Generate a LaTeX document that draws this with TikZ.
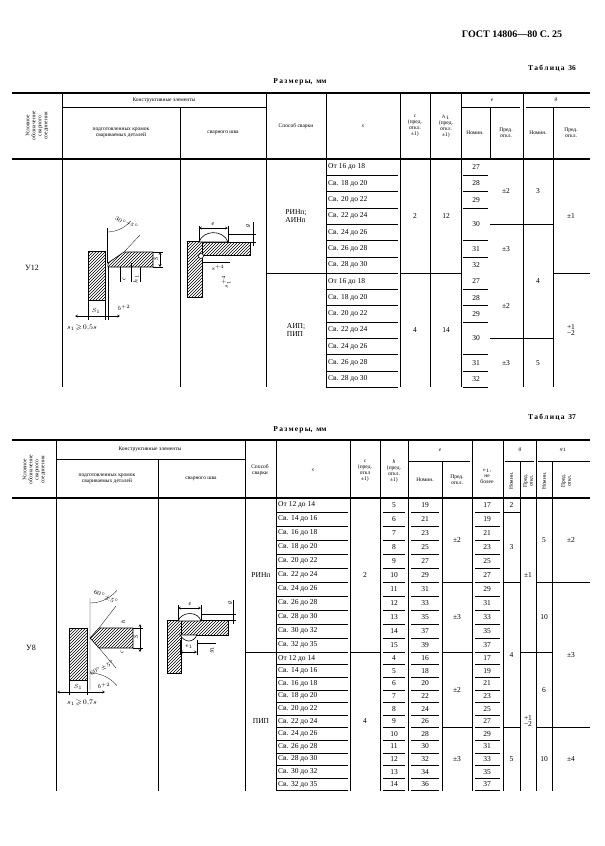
\documentclass[tikz,border=0pt]{standalone}
\usepackage{amsmath,amssymb}
\usepackage{fontspec}
\setmainfont{Liberation Serif}
\usetikzlibrary{patterns}
\tikzset{
 tx/.style={font=\fontsize{7.5}{8}\selectfont,inner sep=0pt},
 hd/.style={font=\fontsize{5.5}{6}\selectfont,inner sep=0pt,align=center},
 hatch/.style={draw,line width=0.6pt,pattern=north east lines},
 rule/.style={line width=0.5pt},
 thk/.style={line width=1.1pt},
 dim/.style={line width=0.3pt},
 lab/.style={font=\fontsize{6}{6}\selectfont\itshape,inner sep=0.5pt},
 pm/.style={font=\fontsize{7.5}{6.5}\selectfont,inner sep=0pt,align=center}
}
\begin{document}
\begin{tikzpicture}[x=1pt,y=-1pt]
\useasboundingbox (0,0) rectangle (605,846);
\fill[white] (0,0) rectangle (605,846);
\node[font=\bfseries\fontsize{10}{10}\selectfont] (gost) at (512,34) {ГОСТ 14806—80 С. 25};
% ================= TABLE 36 =================
\node[font=\bfseries\fontsize{7.5}{8}\selectfont] (t36) at (552,68) {Т\,а\,б\,л\,и\,ц\,а\ \ 36};
\node[font=\bfseries\fontsize{7.5}{8}\selectfont] (r36) at (300,82) {Р\,а\,з\,м\,е\,р\,ы,\ \ мм};
\draw[thk] (12,93) -- (590,93);
\draw[thk] (12,159) -- (590,159);
\foreach \x in {62,266,326,400,430,461,523} \draw[rule] (\x,93) -- (\x,387);
\draw[rule] (180,107) -- (180,387);
\draw[rule] (490,107) -- (490,159);
\draw[rule] (553,107) -- (553,387);
\draw[rule] (62,107) -- (266,107);
\draw[rule] (461,107) -- (520,107);
\draw[rule] (526,107) -- (590,107);
\node[hd,rotate=90] (h1a) at (37,126) {Условное\\обозначение\\сварного\\соединения};
\node[hd] (h1b) at (164,100) {Конструктивные элементы};
\node[hd] (h1c) at (121,133) {подготовленных кромок\\свариваемых деталей};
\node[hd] (h1d) at (223,133) {сварного шва};
\node[hd] (h1e) at (296,126) {Способ сварки};
\node[hd,font=\fontsize{5.5}{6}\selectfont\itshape] (h1f) at (363,126) {s};
\node[hd] (h1g) at (415,126) {\textit{c}\\(пред.\\откл.\\±1)};
\node[hd] (h1h) at (446,126) {$h_1$\\(пред.\\откл.\\±1)};
\node[hd,font=\fontsize{5.5}{6}\selectfont\itshape] (h1i) at (492,100) {e};
\node[hd] (h1j) at (475,133) {Номин.};
\node[hd] (h1k) at (506,133) {Пред.\\откл.};
\node[hd,font=\fontsize{5.5}{6}\selectfont\itshape] (h1l) at (556,100) {g};
\node[hd] (h1m) at (538,133) {Номин.};
\node[hd] (h1n) at (571,133) {Пред.\\откл.};
% body
\foreach \t [count=\i from 0] in {{От 16 до 18},{Св. 18 до 20},{Св. 20 до 22},{Св. 22 до 24},{Св. 24 до 26},{Св. 26 до 28},{Св. 28 до 30},{От 16 до 18},{Св. 18 до 20},{Св. 20 до 22},{Св. 22 до 24},{Св. 24 до 26},{Св. 26 до 28},{Св. 28 до 30}}{
 \node[tx,anchor=west] (sa\i) at (328,{159+(\i+0.5)*16.3}) {\t};
 \draw[rule] (326,{159+(\i+1)*16.3}) -- (398,{159+(\i+1)*16.3});
}
\foreach \v/\r in {27/0,28/1,29/2,31/5,32/6,27/7,28/8,29/9,31/12,32/13}{
 \node[tx] (ea\r) at (476,{159+(\r+0.5)*16.3}) {\v};
}
\node[tx] (ea3) at (476,{159+4*16.3}) {30};
\node[tx] (ea10) at (476,{159+11*16.3}) {30};
\foreach \r in {1,2,3,5,6,8,9,10,12,13,14} \draw[rule] (463,{159+\r*16.3}) -- (488,{159+\r*16.3});
\draw[rule] (266,273.1) -- (326,273.1);
\draw[rule] (400,273.1) -- (461,273.1);
\draw[rule] (553,273.1) -- (590,273.1);
\draw[rule] (490,224.2) -- (553,224.2);
\draw[rule] (490,338.3) -- (553,338.3);
\node[tx,align=left] (m1) at (296,216) {РИНп;\\АИНп};
\node[tx,align=left] (m2) at (296,330) {АИП;\\ПИП};
\node[tx] (c1) at (415,216) {2};
\node[tx] (c2) at (415,330) {4};
\node[tx] (hh1) at (446,216) {12};
\node[tx] (hh2) at (446,330) {14};
\node[tx] (ep1) at (506,191) {±2};
\node[tx] (ep2) at (506,249) {±3};
\node[tx] (ep3) at (506,306) {±2};
\node[tx] (ep4) at (506,363) {±3};
\node[tx] (gn1) at (538,191) {3};
\node[tx] (gn2) at (538,281) {4};
\node[tx] (gn3) at (538,363) {5};
\node[tx] (gp1) at (571,216) {±1};
\node[pm] (gp2) at (571,330) {+1\\−2};
\node[tx,font=\fontsize{8}{8}\selectfont] (u12) at (32,268) {У12};
% drawing 1 table 36
\draw[hatch] (88,251) rectangle (105,300);
\draw[hatch] (108,263) -- (124,252) -- (153,252) -- (153,267) -- (108,267) -- cycle;
\draw[dim] (107,263) -- (107,228);
\draw[dim] (124,252) -- (140,235);
\draw[dim] (107,232) arc[start angle=90,end angle=40,radius=31];
\node[lab,rotate=-30] (a1) at (127,223) {$30^{\circ}{}^{+5^{\circ}}$};
\draw[dim] (153,252) -- (163,252) (153,267) -- (163,267);
\draw[dim,<->,>=stealth] (160,252) -- (160,267);
\node[lab,rotate=90] (s1l) at (156,259) {S};
\draw[dim] (120,267) -- (120,282) (131,263) -- (131,282) (140,267) -- (140,282);
\node[lab,rotate=90] (cl) at (124,279) {c};
\node[lab,rotate=90] (hl) at (136,279) {$h_1$};
\draw[dim] (88,300) -- (88,320) (105,300) -- (105,320) (108,267) -- (108,320);
\draw[dim,<->,>=stealth] (75,316) -- (120,316);
\node[lab] (s1a) at (96,311) {$S_1$};
\node[lab] (b1a) at (124,308) {$b^{+2}$};
\node[lab,font=\fontsize{7}{7}\selectfont] (s1b) at (82,328) {$s_1\!\geqslant\!0{,}5s$};
% drawing 2 table 36
\draw[hatch] (187,241) rectangle (202,297);
\draw[hatch] (202,242) rectangle (250,255);
\draw[line width=0.6pt,fill=white] (199,242) .. controls (203,230) and (223,229) .. (228,242) -- cycle;
\draw[line width=0.6pt,fill=white] (201,256) circle (2.5);
\draw[dim] (199,242) -- (199,226) (228,242) -- (228,226);
\draw[dim,<->,>=stealth] (199,228) -- (228,228);
\node[lab] (el) at (213,224) {e};
\draw[dim] (250,242) -- (256,242) (228,234) -- (256,234);
\draw[dim] (253,222) -- (253,246);
\node[lab,rotate=90] (gl) at (248,226) {g};
\draw[dim] (202,262) -- (230,262);
\node[lab] (sp) at (218,268) {$s^{+4}$};
\node[lab,rotate=90] (sp2) at (226,282) {$s^{+4}_1$};
% ================= TABLE 37 =================
\node[font=\bfseries\fontsize{7.5}{8}\selectfont] (t37) at (552,417) {Т\,а\,б\,л\,и\,ц\,а\ \ 37};
\node[font=\bfseries\fontsize{7.5}{8}\selectfont] (r37) at (300,430) {Р\,а\,з\,м\,е\,р\,ы,\ \ мм};
\draw[thk] (12,440) -- (590,440);
\draw[thk] (12,498) -- (590,498);
\foreach \x in {56,245,276,350,380,408,472,503,536} \draw[rule] (\x,440) -- (\x,791);
\draw[rule] (158,459) -- (158,791);
\draw[rule] (442,461) -- (442,791);
\draw[rule] (520,461) -- (520,791);
\draw[rule] (552,461) -- (552,791);
\draw[rule] (56,459) -- (245,459);
\draw[rule] (408,461) -- (470,461);
\draw[rule] (505,461) -- (534,461);
\draw[rule] (538,461) -- (590,461);
\node[hd,rotate=90] (h2a) at (34,470) {Условное\\обозначение\\сварного\\соединения};
\node[hd] (h2b) at (150,449) {Конструктивные элементы};
\node[hd] (h2c) at (107,479) {подготовленных кромок\\свариваемых деталей};
\node[hd] (h2d) at (201,479) {сварного шва};
\node[hd] (h2e) at (260,470) {Способ\\сварки};
\node[hd,font=\fontsize{5.5}{6}\selectfont\itshape] (h2f) at (313,470) {s};
\node[hd] (h2g) at (365,471) {\textit{c}\\(пред.\\откл\\±1)};
\node[hd] (h2h) at (394,471) {\textit{h}\\(пред.\\откл.\\±1)};
\node[hd,font=\fontsize{5.5}{6}\selectfont\itshape] (h2i) at (440,450) {e};
\node[hd] (h2j) at (425,480) {Номин.};
\node[hd] (h2k) at (457,480) {Пред.\\откл.};
\node[hd] (h2l) at (487,476) {$e_1$,\\не\\более};
\node[hd,font=\fontsize{5.5}{6}\selectfont\itshape] (h2m) at (520,450) {g};
\node[hd,rotate=90] (h2n) at (511,481) {Номин.};
\node[hd,rotate=90] (h2o) at (528,481) {Пред.\\откл.};
\node[hd] (h2p) at (563,450) {$g_1$};
\node[hd,rotate=90] (h2q) at (544,481) {Номин.};
\node[hd,rotate=90] (h2r) at (566,481) {Пред.\\откл.};
\foreach \t/\h/\e/\f [count=\i from 0] in {{От 12 до 14}/5/19/17,{Св. 14 до 16}/6/21/19,{Св. 16 до 18}/7/23/21,{Св. 18 до 20}/8/25/23,{Св. 20 до 22}/9/27/25,{Св. 22 до 24}/10/29/27,{Св. 24 до 26}/11/31/29,{Св. 26 до 28}/12/33/31,{Св. 28 до 30}/13/35/33,{Св. 30 до 32}/14/37/35,{Св. 32 до 35}/15/39/37,{От 12 до 14}/4/16/17,{Св. 14 до 16}/5/18/19,{Св. 16 до 18}/6/20/21,{Св. 18 до 20}/7/22/23,{Св. 20 до 22}/8/24/25,{Св. 22 до 24}/9/26/27,{Св. 24 до 26}/10/28/29,{Св. 26 до 28}/11/30/31,{Св. 28 до 30}/12/32/33,{Св. 30 до 32}/13/34/35,{Св. 32 до 35}/14/36/37}{
 \pgfmathsetmacro\yc{\i<11 ? 498+(\i+0.5)*14 : 652+(\i-10.5)*12.6}
 \pgfmathsetmacro\yb{\i<11 ? 498+(\i+1)*14 : 652+(\i-10)*12.6}
 \node[tx,anchor=west] (sb\i) at (278,\yc) {\t};
 \node[tx] (hb\i) at (394,\yc) {\h};
 \node[tx] (eb\i) at (425,\yc) {\e};
 \node[tx] (fb\i) at (487,\yc) {\f};
 \draw[rule] (276,\yb) -- (348,\yb);
 \draw[rule] (383,\yb) -- (405,\yb);
 \draw[rule] (411,\yb) -- (439,\yb);
 \draw[rule] (475,\yb) -- (500,\yb);
}
\draw[rule] (245,652) -- (276,652);
\draw[rule] (350,652) -- (380,652);
\draw[rule] (442,582) -- (472,582) (442,652) -- (472,652) (442,727.6) -- (472,727.6);
\draw[rule] (503,512) -- (520,512) (503,582) -- (520,582) (503,727.6) -- (520,727.6);
\draw[rule] (520,652) -- (536,652);
\draw[rule] (536,582) -- (552,582) (536,652) -- (552,652) (536,727.6) -- (552,727.6);
\draw[rule] (552,582) -- (590,582) (552,727.6) -- (590,727.6);
\node[tx] (mb1) at (261,575) {РИНп};
\node[tx] (mb2) at (261,721) {ПИП};
\node[tx] (cb1) at (365,575) {2};
\node[tx] (cb2) at (365,721) {4};
\node[tx] (epb1) at (457,540) {±2};
\node[tx] (epb2) at (457,617) {±3};
\node[tx] (epb3) at (457,690) {±2};
\node[tx] (epb4) at (457,759) {±3};
\node[tx] (gnb1) at (511.5,505) {2};
\node[tx] (gnb2) at (511.5,547) {3};
\node[tx] (gnb3) at (511.5,655) {4};
\node[tx] (gnb4) at (511.5,759) {5};
\node[tx] (gpb1) at (528,575) {±1};
\node[pm] (gpb2) at (528,721) {+1\\−2};
\node[tx] (g1a) at (544,540) {5};
\node[tx] (g1b) at (544,617) {10};
\node[tx] (g1c) at (544,690) {6};
\node[tx] (g1d) at (544,759) {10};
\node[tx] (g1e) at (571,540) {±2};
\node[tx] (g1f) at (571,655) {±3};
\node[tx] (g1g) at (571,759) {±4};
\node[tx,font=\fontsize{8}{8}\selectfont] (u8) at (31,648) {У8};
% drawing 1 table 37
\draw[hatch] (69,628) rectangle (87,680);
\draw[hatch] (90,638) -- (99,628) -- (133,628) -- (133,648) -- (99,648) -- cycle;
\draw[dim] (90,638) -- (90,598) (99,628) -- (116,606) (99,648) -- (116,668) (90,638) -- (90,690);
\draw[dim] (90,603) arc[start angle=90,end angle=40,radius=35];
\draw[dim] (90,673) arc[start angle=-90,end angle=-40,radius=35];
\node[lab,rotate=-25] (a2) at (106,597) {$60^{\circ}\!\pm\!5^{\circ}$};
\node[lab,rotate=25] (a3) at (102,668) {$60^{\circ}\!\pm\!5^{\circ}$};
\node[lab,rotate=90] (cc) at (122,652) {c};
\node[lab,rotate=90] (hc) at (123,622) {h};
\draw[dim] (133,628) -- (143,628) (133,648) -- (143,648);
\draw[dim,<->,>=stealth] (140,624) -- (140,652);
\node[lab,rotate=90] (ss2) at (136,637) {S};
\draw[dim] (69,680) -- (69,695) (87,680) -- (87,695);
\draw[dim,<->,>=stealth] (57,692) -- (105,692);
\node[lab] (s1c) at (78,687) {$S_1$};
\node[lab] (b2) at (104,686) {$b^{+2}$};
\node[lab,font=\fontsize{7}{7}\selectfont] (s1d) at (82,703) {$s_1\!\geqslant\!0{,}7s$};
% drawing 2 table 37
\draw[hatch] (167,620) rectangle (181,673);
\draw[hatch] (181,620) rectangle (228,635);
\draw[line width=0.6pt,fill=white] (178,621) .. controls (182,611) and (198,611) .. (201,621) -- cycle;
\draw[line width=0.6pt,fill=white] (180,635) .. controls (185,643) and (193,643) .. (197,635) -- cycle;
\draw[dim] (178,620) -- (178,605) (201,620) -- (201,605);
\draw[dim,<->,>=stealth] (178,608) -- (201,608);
\node[lab] (e2) at (190,604) {e};
\draw[dim] (201,614) -- (236,614) (228,620) -- (236,620);
\draw[dim] (233,600) -- (233,624);
\node[lab,rotate=90] (g2) at (230,603) {g};
\draw[dim] (180,640) -- (180,655) (197,640) -- (197,655);
\draw[dim,<->,>=stealth] (180,652) -- (197,652);
\node[lab] (e1b) at (189,647) {$e_1$};
\draw[dim] (197,643) -- (216,643);
\node[lab,rotate=90] (g1b2) at (212,650) {$g_1$};
\end{tikzpicture}
\end{document}
